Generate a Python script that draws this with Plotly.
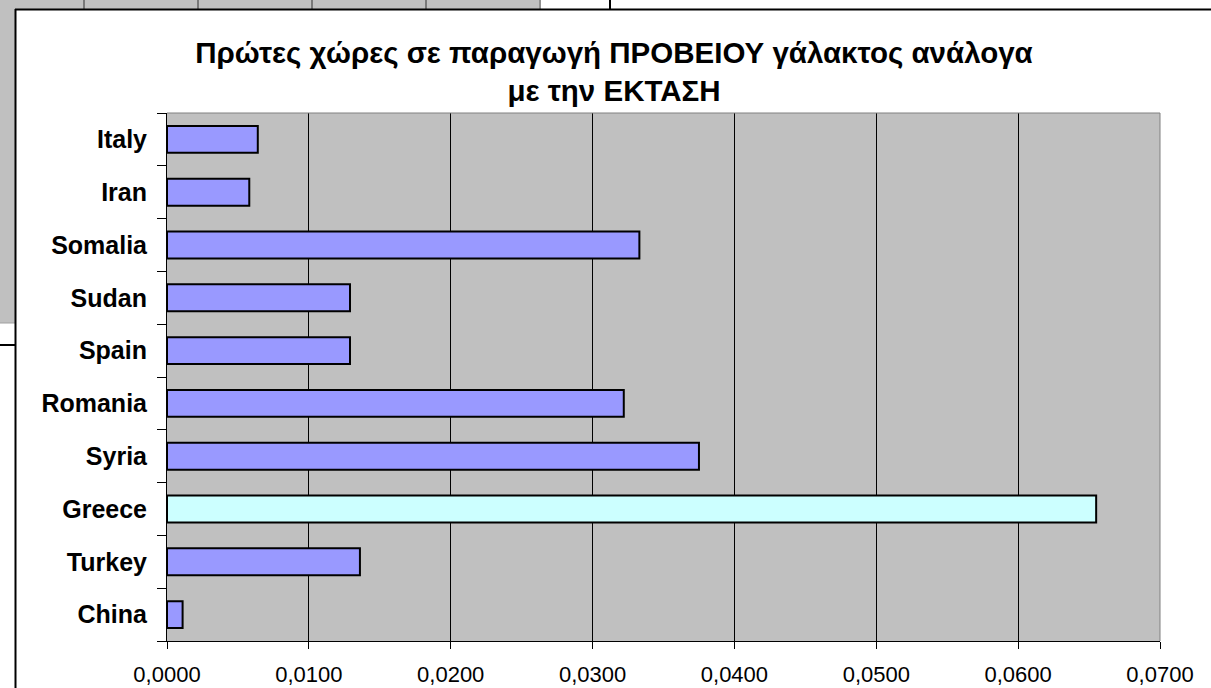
import plotly.graph_objects as go

# Data (bottom to top as drawn)
countries = ["China", "Turkey", "Greece", "Syria", "Romania", "Spain", "Sudan", "Somalia", "Iran", "Italy"]
values = [0.0011, 0.0136, 0.0655, 0.0375, 0.0322, 0.0129, 0.0129, 0.0333, 0.0058, 0.0064]
highlight = "Greece"
x_ticks = [0.00, 0.01, 0.02, 0.03, 0.04, 0.05, 0.06, 0.07]
title_text = "Πρώτες χώρες σε παραγωγή ΠΡΟΒΕΙΟΥ γάλακτος ανάλογα<br>με την ΕΚΤΑΣΗ"

W, H = 1211, 688
L, R, T, B = 167, 1160, 113, 641

def px(x):
    return (x - L) / (R - L)

def py(y):
    return (B - y) / (B - T)

colors = ["#CCFFFF" if c == highlight else "#9999FF" for c in countries]

fig = go.Figure(go.Bar(
    x=values, y=countries, orientation="h",
    marker=dict(color=colors, line=dict(color="#000000", width=2)),
    hoverinfo="x+y",
))

font_family = "Liberation Sans, Arial, sans-serif"

shapes = []
def line(x0, y0, x1, y1, color="#000000", width=1):
    shapes.append(dict(type="line", xref="paper", yref="paper",
                       x0=px(x0), y0=py(y0), x1=px(x1), y1=py(y1),
                       line=dict(color=color, width=width), layer="above"))

def rect(x0, y0, x1, y1, fill):
    shapes.append(dict(type="rect", xref="paper", yref="paper",
                       x0=px(x0), y0=py(y0), x1=px(x1), y1=py(y1),
                       fillcolor=fill, line=dict(width=0), layer="above"))

# spreadsheet background pieces outside the chart box
rect(0, 0, 540, 9, "#C0C0C0")
rect(0, 9, 15, 323, "#C0C0C0")
for cx in [84, 198, 312, 426]:
    line(cx, 0, cx, 9, "#303030", 1)
line(540, 0, 540, 9, "#909090", 2)
line(610, 0, 610, 9, "#000000", 2)
line(0, 345, 15, 345, "#000000", 2)
line(0, 323, 15, 323, "#A0A0A0", 1)
# chart box border
line(15, 9.5, W, 9.5, "#000000", 2)
line(15.5, 9, 15.5, H, "#000000", 2)
# plot area border (top and right)
line(L, T, R, T, "#808080", 1)
line(R, T, R, B, "#808080", 1)

fig.update_layout(
    width=W, height=H, autosize=False,
    margin=dict(l=L, r=W - R, t=T, b=H - B, pad=0, autoexpand=False),
    paper_bgcolor="#FFFFFF", plot_bgcolor="#C0C0C0",
    separators=",.",
    showlegend=False,
    bargap=0.49,
    title=dict(text=title_text, xref="container", yref="container",
               x=614 / W, y=1 - 63 / H, xanchor="center", yanchor="middle",
               font=dict(family=font_family, size=29.5, color="#000000", weight="bold")),
    xaxis=dict(range=[0, 0.07], tickvals=x_ticks, tickformat=".4f", automargin=False,
               showgrid=True, gridcolor="#000000", gridwidth=1,
               zeroline=False, showline=True, linecolor="#000000", linewidth=1,
               ticks="outside", ticklen=7, tickcolor="#000000",
               ticklabelstandoff=7,
               tickfont=dict(family=font_family, size=22, color="#000000")),
    yaxis=dict(type="category", categoryorder="array", categoryarray=countries,
               automargin=False,
               showgrid=False, zeroline=False, showline=True, linecolor="#000000", linewidth=1,
               ticks="outside", ticklen=9, tickcolor="#000000", tickson="boundaries",
               ticklabelstandoff=14,
               tickfont=dict(family=font_family, size=25, color="#000000", weight="bold")),
    shapes=shapes,
)

fig.write_html("out.html", config={"displayModeBar": False},
               post_script="document.body.style.margin='0';document.body.style.overflow='hidden';")
